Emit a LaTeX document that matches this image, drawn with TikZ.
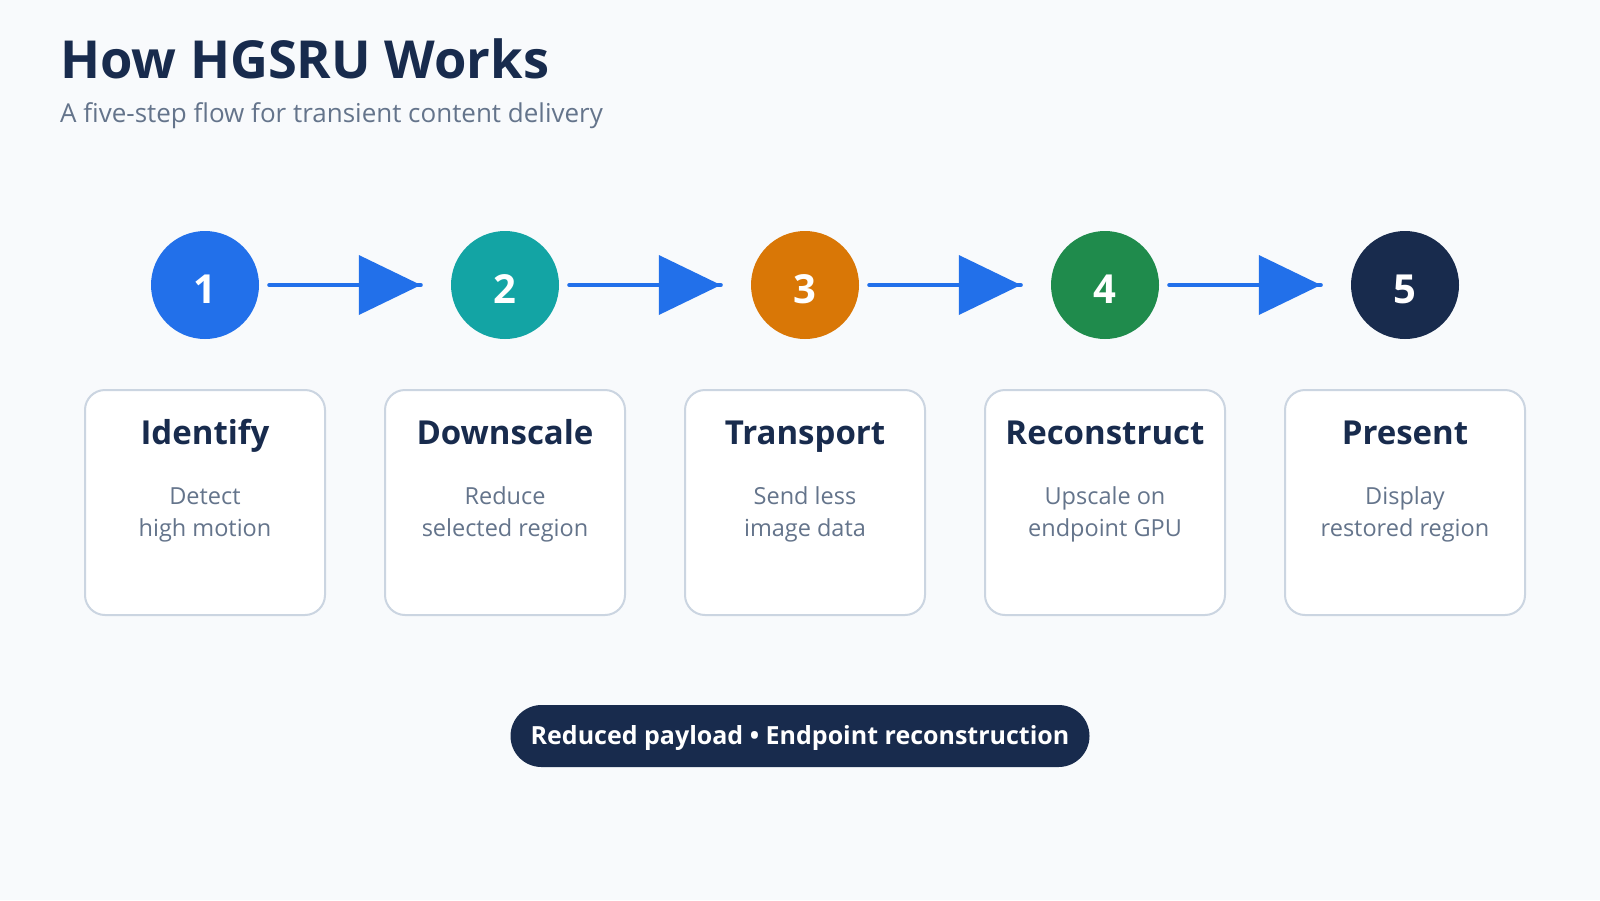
\documentclass[tikz,border=0pt]{standalone}
\usepackage{fontspec}
\setmainfont{Open Sans}
\usetikzlibrary{calc}
\definecolor{bgc}{HTML}{F8FAFC}
\definecolor{navy}{HTML}{182B4D}
\definecolor{subgrey}{HTML}{64748B}
\definecolor{cblue}{HTML}{2270EA}
\definecolor{cteal}{HTML}{13A4A4}
\definecolor{corange}{HTML}{D97706}
\definecolor{cgreen}{HTML}{1F8B4C}
\definecolor{cborder}{HTML}{CBD5E1}
\tikzset{
  stepcircle/.style={circle, inner sep=0pt, minimum size=108pt, text=white,
    font=\bfseries\fontsize{40}{48}\selectfont, text height=36pt, text depth=0pt},
  stepcard/.style={draw=cborder, line width=2pt, fill=white, rounded corners=20pt,
    minimum width=240pt, minimum height=225pt, inner sep=0pt},
  cardtitle/.style={anchor=base, text=navy, font=\bfseries\fontsize{33}{39}\selectfont, inner sep=0pt},
  carddesc/.style={anchor=base, text=subgrey, font=\fontsize{23.5}{31.7}\selectfont, align=center, inner sep=0pt},
  flowline/.style={draw=cblue, line width=4pt, line cap=round},
  flowhead/.style={fill=cblue},
  pill/.style={fill=navy, rounded corners=31pt, minimum width=579pt, minimum height=62pt,
    inner sep=0pt, text=white, font=\bfseries\fontsize{25}{30}\selectfont, text height=20pt, text depth=4pt}
}
\begin{document}
\begin{tikzpicture}[x=1pt, y=-1pt]
\useasboundingbox (0,0) rectangle (1600,900);
\fill[bgc] (0,0) rectangle (1600,900);
\node[anchor=base west, inner sep=0pt, text=navy, font=\bfseries\fontsize{52.4}{62}\selectfont] (title) at (60,78) {How HGSRU Works};
\node[anchor=base west, inner sep=0pt, text=subgrey, font=\fontsize{26}{31}\selectfont] (subtitle) at (60,122) {A five-step flow for transient content delivery};

\node[stepcircle, fill=cblue] (c1) at (205,285) {1};
\node[stepcircle, fill=cteal] (c2) at (505,285) {2};
\node[stepcircle, fill=corange] (c3) at (805,285) {3};
\node[stepcircle, fill=cgreen] (c4) at (1105,285) {4};
\node[stepcircle, fill=navy] (c5) at (1405,285) {5};

\foreach \a/\b in {c1/c2, c2/c3, c3/c4, c4/c5}{
  \draw[flowline] ($(\a.east)+(10,0)$) coordinate (s\a) -- ($(\b.west)+(-30,0)$) coordinate (e\a);
  \fill[flowhead] (e\a) -- ++(-62,-30) -- ++(0,60) -- cycle;
}

\foreach \i/\t/\la/\lb in {1/Identify/Detect/high motion, 2/Downscale/Reduce/selected region, 3/Transport/Send less/image data, 4/Reconstruct/Upscale on/endpoint GPU, 5/Present/Display/restored region}{
  \node[stepcard] (b\i) at ($(c\i)+(0,217.5)$) {};
  \node[cardtitle] (t\i) at ($(b\i.north)+(0,55)$) {\t};
  \node[carddesc] (d\i) at ($(b\i.north)+(0,147)$) {\la\\\lb};
}

\node[pill] (tag) at (800,736) {Reduced payload • Endpoint reconstruction};
\end{tikzpicture}
\end{document}
